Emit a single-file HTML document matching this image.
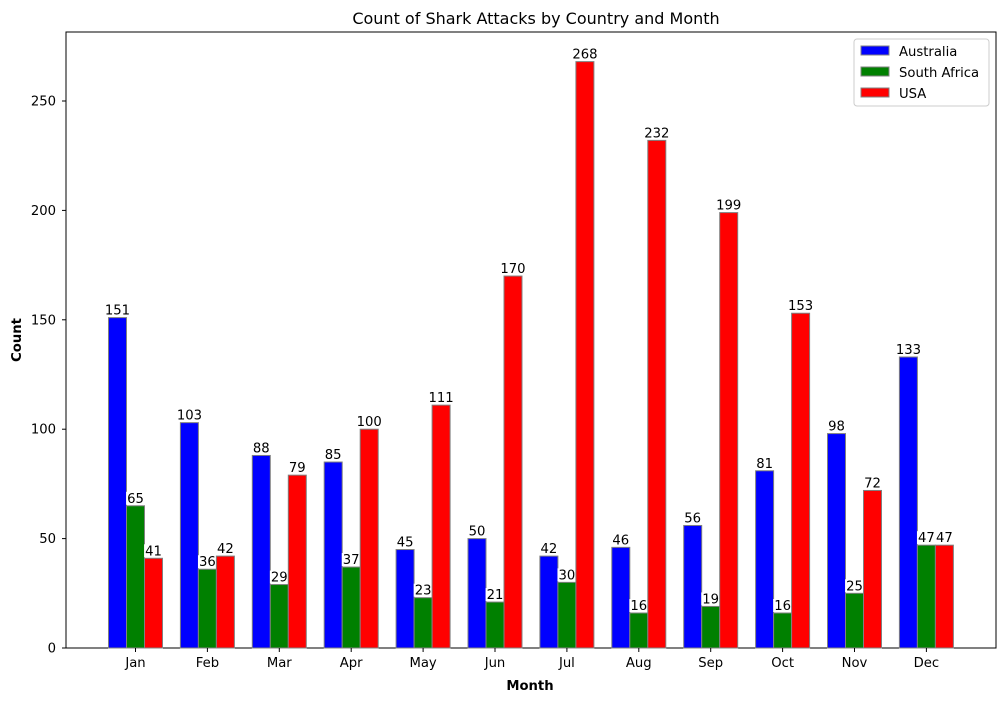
<!DOCTYPE html>
<html><head><meta charset="utf-8"><style>
body{margin:0;background:#fff;font-family:"Liberation Sans",sans-serif;}
</style></head><body>
<svg id="c" width="1005" height="701" font-family="DejaVu Sans, Liberation Sans, sans-serif"></svg>
<script>
const months=["Jan","Feb","Mar","Apr","May","Jun","Jul","Aug","Sep","Oct","Nov","Dec"];
const australia=[151,103,88,85,45,50,42,46,56,81,98,133];
const southAfrica=[65,36,29,37,23,21,30,16,19,16,25,47];
const usa=[41,42,79,100,111,170,268,232,199,153,72,47];
const yTicks=[0,50,100,150,200,250];
const seriesNames=["Australia","South Africa","USA"];
const colors=["#0000ff","#008000","#ff0000"];
const svg=document.getElementById('c');
const NS='http://www.w3.org/2000/svg';
function mk(t,a,txt){const e=document.createElementNS(NS,t);for(const k in a)e.setAttribute(k,a[k]);if(txt!==undefined)e.textContent=txt;svg.appendChild(e);return e;}
const L=66,R=996,T=32,B=648;
const y=v=>B-v*(547/250);
const xc=i=>135.5+i*71.9;
const bw=18;
let e;
e=mk('rect',{x:L,y:T,width:R-L,height:B-T,fill:'none',stroke:'#000','stroke-width':1});


const all=[australia,southAfrica,usa];
all.forEach((s,si)=>{s.forEach((v,i)=>{
 const cx=xc(i)+(si-1)*bw;
 e=mk('rect',{x:cx-bw/2,y:y(v),width:bw,height:B-y(v),fill:colors[si],stroke:'#808080','stroke-width':1});
 
 
 const tw=String(v).length*8.4+2;
 e=mk('rect',{x:cx-tw/2,y:y(v)-14,width:tw,height:13,fill:'#fff'});
 
 
 e=mk('text',{x:cx,y:y(v)-3,'text-anchor':'middle','font-size':13.2},v);
 
 
});});
months.forEach((m,i)=>{
 e=mk('line',{x1:xc(i),x2:xc(i),y1:B,y2:B+4,stroke:'#000'});
 
 
 e=mk('text',{x:xc(i),y:B+19,'text-anchor':'middle','font-size':13.2},m);
 
 
});
yTicks.forEach(v=>{
 e=mk('line',{x1:L-4,x2:L,y1:y(v),y2:y(v),stroke:'#000'});
 
 
 e=mk('text',{x:L-10,y:y(v)+4.5,'text-anchor':'end','font-size':13.2},v);
 
 
});
e=mk('text',{x:536,y:24,'text-anchor':'middle','font-size':16},'Count of Shark Attacks by Country and Month');


e=mk('text',{x:530,y:690,'text-anchor':'middle','font-size':13.2,'font-weight':'bold'},'Month');


e=mk('text',{x:21,y:(T+B)/2,'text-anchor':'middle','font-size':13.2,'font-weight':'bold',transform:'rotate(-90 21 '+((T+B)/2)+')'},'Count');


e=mk('rect',{x:854,y:39,width:135,height:67,fill:'#fff',stroke:'#ccc',rx:3});


seriesNames.forEach((n,i)=>{
 const ly=46+i*21;
 e=mk('rect',{x:861,y:ly,width:28,height:9,fill:colors[i],stroke:'#808080'});
 
 
 e=mk('text',{x:899,y:ly+10,'font-size':13.2},n);
 
 
});
</script>
</body></html>
